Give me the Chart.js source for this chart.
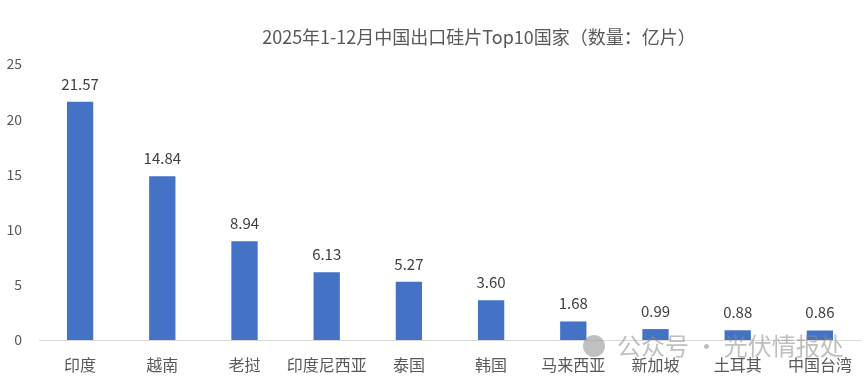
<!DOCTYPE html>
<html><head><meta charset="utf-8">
<script src="https://cdn.jsdelivr.net/npm/chart.js@4.4.1/dist/chart.umd.min.js"></script>
<style>html,body{margin:0;padding:0;background:#fff}#wrap{width:865px;height:382px;position:relative}</style>
</head><body><div id="wrap"><canvas id="c" width="865" height="382"></canvas></div>
<script>
const titleText = '2025年1-12月中国出口硅片Top10国家（数量：亿片）';
const categories = ['印度','越南','老挝','印度尼西亚','泰国','韩国','马来西亚','新加坡','土耳其','中国台湾'];
const values = [21.57,14.84,8.94,6.13,5.27,3.60,1.68,0.99,0.88,0.86];
const yTicks = [0,5,10,15,20,25];
const watermark = '公众号 · 光伏情报处';
const FONT = '"Noto Sans CJK SC","Noto Sans",sans-serif';

const overlay = {
  id:'overlay',
  afterDatasetsDraw(chart){
    const ctx = chart.ctx;
    const meta = chart.getDatasetMeta(0);
    ctx.save();
    ctx.font = '15px ' + FONT;
    ctx.fillStyle = '#404040';
    ctx.textAlign = 'center';
    ctx.textBaseline = 'middle';
    meta.data.forEach((bar,i)=>{
      ctx.fillText(values[i].toFixed(2), bar.x, bar.y - 18);
    });
    ctx.font = '18px ' + FONT;
    ctx.fillStyle = '#595959';
    ctx.fillText(titleText, 479, 37);
    ctx.restore();
  },
  afterDraw(chart){
    const ctx = chart.ctx;
    ctx.save();
    ctx.font = '24px ' + FONT;
    ctx.fillStyle = 'rgba(140,140,140,0.55)';
    ctx.textAlign = 'left';
    ctx.textBaseline = 'middle';
    ctx.fillText(watermark, 617, 346);
    ctx.beginPath();
    ctx.arc(594, 346, 11, 0, Math.PI*2);
    ctx.fill();
    ctx.restore();
  }
};

new Chart(document.getElementById('c'), {
  type:'bar',
  data:{labels:categories, datasets:[{data:values, backgroundColor:'#4472C4', borderWidth:0, barPercentage:0.32, categoryPercentage:1}]},
  options:{
    responsive:false, animation:false,
    layout:{padding:{top:64,right:4,left:0,bottom:0}},
    plugins:{legend:{display:false},tooltip:{enabled:false},title:{display:false}},
    scales:{
      x:{
        grid:{display:false},
        border:{display:true,color:'#d9d9d9',width:1},
        ticks:{color:'#595959',font:{size:16,family:FONT},padding:7,maxRotation:0,autoSkip:false},
        afterFit(s){s.height=42;}
      },
      y:{
        min:0,max:25,
        grid:{display:false,drawTicks:false},
        border:{display:false},
        afterBuildTicks(s){s.ticks = yTicks.map(v=>({value:v}));},
        ticks:{color:'#595959',font:{size:14,family:FONT},padding:17},
        afterFit(s){s.width=39;}
      }
    }
  },
  plugins:[overlay]
});
</script></body></html>
